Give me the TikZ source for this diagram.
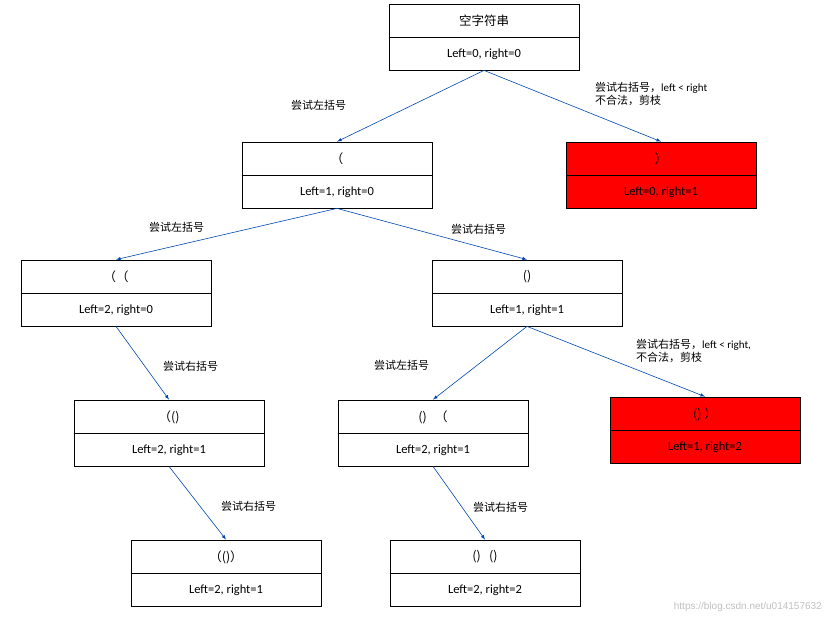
\documentclass[tikz,border=0pt]{standalone}
\usepackage{fontspec}
\setmainfont{Carlito}
\newfontfamily\cjk{Noto Sans CJK SC}
\begin{document}
\begin{tikzpicture}[x=1pt,y=-1pt,
  box/.style={draw,line width=0.8pt,minimum width=190pt,minimum height=66pt,inner sep=0pt},
  arr/.style={draw=blue!60!cyan!70!black,line width=0.6pt,-latex},
  lbl/.style={font=\cjk\fontsize{11}{13}\selectfont,align=left,anchor=west,inner sep=0pt},
  t/.style={font=\fontsize{12.5}{14}\selectfont,inner sep=0pt}]
\useasboundingbox (0,0) rectangle (831,626);
\newcommand{\bx}[6]{%
  \node[box,fill=#6] (#1) at (#2,#3) {};
  \draw[line width=0.8pt] (#1.west) -- (#1.east);
  \node[t,font=\cjk\fontsize{12.5}{14}\selectfont] (#1t) at (#2,#3-16) {#4};
  \node[t] (#1b) at (#2,#3+17) {#5};}
\bx{r}{484}{37}{空字符串}{Left=0, right=0}{white}
\bx{a}{337}{175}{（}{Left=1, right=0}{white}
\bx{x}{661}{175}{）}{Left=0, right=1}{red}
\bx{b}{116}{293}{（（}{Left=2, right=0}{white}
\bx{c}{527}{293}{()}{Left=1, right=1}{white}
\bx{d}{169}{433}{（()}{Left=2, right=1}{white}
\bx{e}{433}{433}{()\ \ \ （}{Left=2, right=1}{white}
\bx{y}{705}{430}{()\ ）}{Left=1, right=2}{red}
\bx{f}{226}{573}{（()）}{Left=2, right=1}{white}
\bx{g}{485}{573}{()\ \ \ ()}{Left=2, right=2}{white}
\draw[arr] (r.south) -- (a.north);
\draw[arr] (r.south) -- (x.north);
\draw[arr] (a.south) -- (b.north);
\draw[arr] (a.south) -- (c.north);
\draw[arr] (b.south) -- (d.north);
\draw[arr] (d.south) -- (f.north);
\draw[arr] (c.south) -- (e.north);
\draw[arr] (c.south) -- (y.north);
\draw[arr] (e.south) -- (g.north);
\node[lbl] (l1) at (291,105) {尝试左括号};
\node[lbl] (l2) at (595,94) {尝试右括号，{\fontfamily{}\setmainfont{Carlito}}\fontspec{Carlito}left < right\\不合法，剪枝};
\node[lbl] (l3) at (149,227) {尝试左括号};
\node[lbl] (l4) at (451,229) {尝试右括号};
\node[lbl] (l5) at (163,366) {尝试右括号};
\node[lbl] (l6) at (374,365) {尝试左括号};
\node[lbl] (l7) at (636,351) {尝试右括号，\fontspec{Carlito}left < right,\\\cjk 不合法，剪枝};
\node[lbl] (l8) at (221,506) {尝试右括号};
\node[lbl] (l9) at (473,507) {尝试右括号};
\node[anchor=east,inner sep=0pt,text=black!25,font=\fontsize{10}{12}\selectfont\fontspec{Liberation Sans}] (wm) at (822,607) {https://blog.csdn.net/u014157632};
\end{tikzpicture}
\end{document}
